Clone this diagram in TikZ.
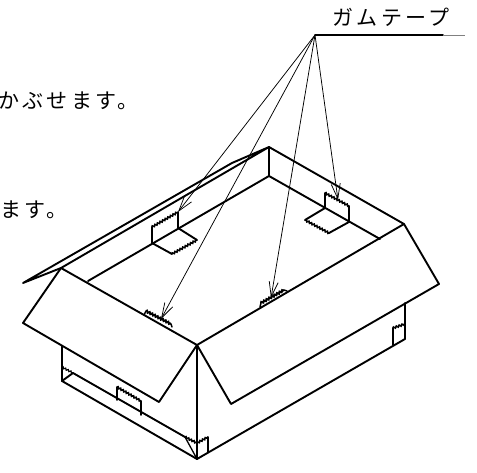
\documentclass[tikz,border=0pt]{standalone}
\usepackage{fontspec}
\newfontfamily\jpfont[LetterSpace=16]{Noto Sans CJK JP}
\usetikzlibrary{positioning}
\usetikzlibrary{arrows.meta,decorations.pathmorphing}
\tikzstyle{label} = [inner sep=0pt, font=\fontsize{21}{21}\jpfont]
\tikzstyle{edge} = [draw, line width=1.9pt, line join=round, line cap=round]
\tikzstyle{fine} = [draw, line width=1.3pt]
\tikzstyle{leader} = [draw, line width=0.75pt, -{Straight Barb[length=15pt,width=9pt,line width=0.75pt]}]
\tikzstyle{tape} = [draw, line width=1.6pt, decorate, decoration={zigzag, amplitude=0.8pt, segment length=3pt}]
\begin{document}
\begin{tikzpicture}[x=1pt, y=-1pt]
    \clip (0,0) rectangle (477,473);
    % nodes
    \node [label, anchor=base east] (lineone) at (139,109) {かぶせます。};
    \node [label, anchor=base east] (linetwo) at (68,218) {ます。};
    \node [label, anchor=base] (tapelabel) at (391,26) {ガムテープ};

    % points of the box
    \coordinate (hub) at (315,35);
    \coordinate (hubend) at (443,35);
    \coordinate (hubfar) at (465,35);
    \coordinate (back) at (269,147);
    \coordinate (backin) at (269,176);
    \coordinate (right) at (404,224);
    \coordinate (rightin) at (380,239);
    \coordinate (rightflap) at (439,284);
    \coordinate (rightflapb) at (231,404);
    \coordinate (front) at (197,345);
    \coordinate (foot) at (197,459);
    \coordinate (footr) at (405,339);
    \coordinate (footrup) at (405,303);
    \coordinate (footl) at (62,381);
    \coordinate (footlup) at (62,346);
    \coordinate (left) at (61,268);
    \coordinate (leftin) at (88,281);
    \coordinate (leftflap) at (23,323);
    \coordinate (leftflapb) at (159,402);
    \coordinate (backflap) at (23,283);
    \coordinate (backbend) at (232,163);
    \coordinate (ledgel) at (73,373);
    \coordinate (ledger) at (185,437);

    % edges
    \path [edge] (back) -- (right) -- (rightflap) -- (rightflapb) -- (front) -- (right);
    \path [edge] (back) -- (backin) -- (rightin);
    \path [edge] (backin) -- (leftin);
    \path [edge] (back) -- (backbend) -- (backflap) -- (left) -- (back);
    \path [edge] (front) -- (left) -- (leftflap) -- (leftflapb) -- (front) -- (foot) -- (footr) -- (footrup);
    \path [edge] (foot) -- (footl) -- (footlup);
    \path [edge] (footl) -- (ledgel) -- (ledger);
    \path [edge] (hub) -- (hubend);
    \path [draw, line width=0.9pt, gray] (hubend) -- (hubfar);

    % tape on the back left
    \coordinate (tla) at (178,212);
    \coordinate (tlb) at (178,228);
    \coordinate (tlc) at (152,227);
    \coordinate (tld) at (152,243);
    \coordinate (tle) at (172,254);
    \coordinate (tlf) at (197,240);
    \path [edge] (tlb) -- (tla);
    \path [tape] (tla) -- (tlc);
    \path [edge] (tlc) -- (tld) -- (tle);
    \path [tape] (tle) -- (tlf);
    \path [edge] (tlf) -- (tlb);

    % tape on the back right
    \coordinate (tra) at (325,193);
    \coordinate (trb) at (325,208);
    \coordinate (trc) at (349,206);
    \coordinate (trd) at (349,222);
    \coordinate (tre) at (305,220);
    \coordinate (trf) at (329,233);
    \path [edge] (trb) -- (tra);
    \path [tape] (tra) -- (trc);
    \path [edge] (trc) -- (trd) -- (trf);
    \path [tape] (trf) -- (tre);
    \path [edge] (tre) -- (trb);

    % strips on the flap folds
    \coordinate (sla) at (144,315);
    \coordinate (slb) at (146,311);
    \coordinate (slc) at (171,324);
    \coordinate (sld) at (172,327);
    \path [edge, line width=1.5pt] (sla) -- (slb);
    \path [tape, line width=2pt] (slb) -- (slc);
    \path [edge, line width=1.5pt] (slc) -- (sld);
    \coordinate (sra) at (260,307);
    \coordinate (srb) at (261,303);
    \coordinate (src) at (284,290);
    \coordinate (srd) at (287,291);
    \path [edge, line width=1.5pt] (sra) -- (srb);
    \path [tape, line width=2pt] (srb) -- (src);
    \path [edge, line width=1.5pt] (src) -- (srd);

    % tapes on the sides
    \coordinate (ta) at (62,367);
    \path [tape, line width=1.2pt] (ta) -- (ledgel);
    \coordinate (tb) at (117,387);
    \coordinate (tbb) at (117,400);
    \coordinate (tc) at (141,401);
    \coordinate (tcb) at (141,415);
    \path [edge] (tbb) -- (tb);
    \path [tape] (tb) -- (tc);
    \path [edge] (tc) -- (tcb);
    \coordinate (td) at (393,345);
    \coordinate (tda) at (393,328);
    \coordinate (tdb) at (405,324);
    \path [edge] (td) -- (tda);
    \path [tape] (tda) -- (tdb);
    \coordinate (te) at (208,437);
    \coordinate (teb) at (208,452);
    \coordinate (tem) at (197,443);
    \path [tape] (ledger) -- (tem);
    \path [tape] (tem) -- (te);
    \path [edge] (te) -- (teb);
    \path [fine] (ledger) -- (foot);

    % leaders
    \coordinate (tipa) at (178,212);
    \coordinate (tipb) at (161,319);
    \coordinate (tipc) at (271,298);
    \coordinate (tipd) at (338,200);
    \path [leader] (hub) -- (tipa);
    \path [leader] (hub) -- (tipb);
    \path [leader] (hub) -- (tipc);
    \path [leader] (hub) -- (tipd);
\end{tikzpicture}
\end{document}
